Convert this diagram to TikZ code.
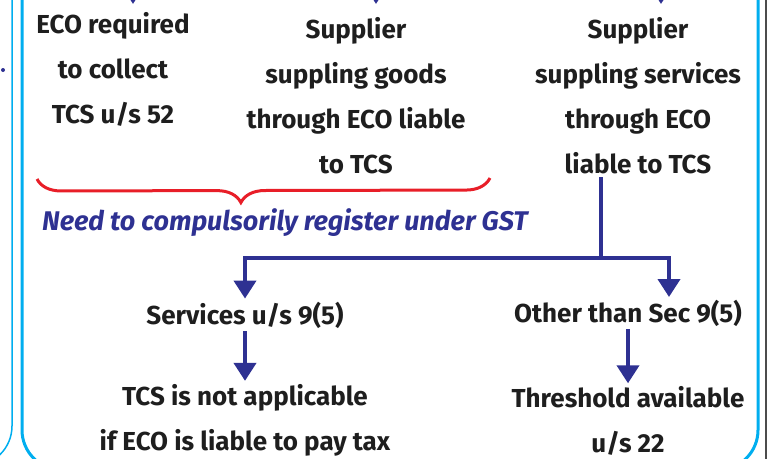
\documentclass[tikz,border=0pt]{standalone}
\usepackage{fontspec}
\setmainfont{Fira Sans}
\usetikzlibrary{arrows.meta, positioning, decorations.pathreplacing}

\definecolor{navyblue}{RGB}{46,49,146}
\definecolor{boxcyan}{RGB}{0,174,239}
\definecolor{bracered}{RGB}{232,30,40}
\definecolor{inktext}{RGB}{30,30,30}

\begin{document}
\begin{tikzpicture}[>={Triangle[width=22pt,length=18pt]}, x=1pt, y=-1pt,
    txt/.style={align=center, inner sep=3pt, text=inktext,
                font=\fontsize{26}{45}\selectfont\bfseries},
    link/.style={draw=navyblue, line width=4pt},
    note/.style={text=navyblue, font=\fontsize{27}{30}\selectfont\bfseries\itshape}]
  \clip (0,0) rectangle (781,458);

  % Frames
  \draw[boxcyan, line width=1.5pt, rounded corners=40pt] (-300,-60) rectangle (12,466);
  \draw[boxcyan, line width=3pt, rounded corners=40pt] (22,-60) rectangle (758,470);
  \draw[gray!60!black, line width=1.2pt] (766,-10) -- (766,470);
  \fill[navyblue] (3,70) circle (2pt);

  % Top row
  \node[txt] (eco) at (113,69) {ECO required\\to collect\\TCS u/s 52};
  \node[txt] (goods) at (356,96) {Supplier\\suppling goods\\through ECO liable\\to TCS};
  \node[txt] (services) at (638,96) {Supplier\\suppling services\\through ECO\\liable to TCS};

  % Arrows coming in from above
  \foreach \x/\n in {133/a, 376/b, 661/c} {
    \coordinate (top\n) at (\x,-40);
    \coordinate (tip\n) at (\x,4);
    \draw[link, ->] (top\n) -- (tip\n);
  }

  % Brace
  \draw[bracered, line width=3pt, decorate,
        decoration={brace, amplitude=24pt, mirror, aspect=0.45}]
    (37,179) -- (490,178);
  \node[note] (need) at (285,223) {Need to compulsorily register under GST};

  % Split
  \node[txt] (serv95) at (245,315) {Services u/s 9(5)};
  \node[txt] (other) at (628,313) {Other than Sec 9(5)};
  \coordinate (split) at (601,258);
  \coordinate (rdrop) at (669,297);
  \draw[link] (split |- services.south) -- (split);
  \draw[link, ->] (split) -| (serv95.north);
  \draw[link, ->] (split) -| (rdrop);

  % Bottom row
  \node[txt] (tcsna) at (245,420) {TCS is not applicable\\if ECO is liable to pay tax};
  \node[txt] (thresh) at (628,421) {Threshold available\\u/s 22};
  \draw[link, ->] (serv95) -- (tcsna);
  \draw[link, ->] (other) -- (thresh);
\end{tikzpicture}
\end{document}
